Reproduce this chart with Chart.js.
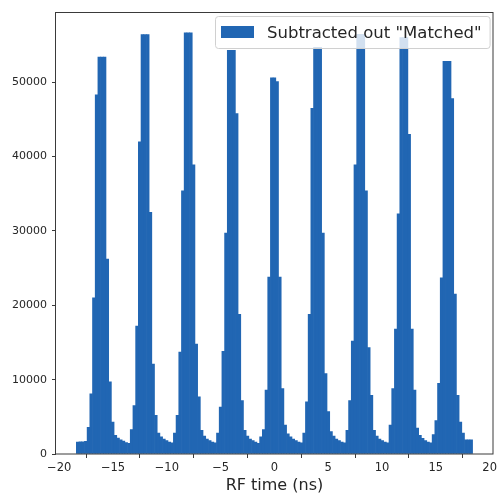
<!DOCTYPE html>
<html lang="en">
<head>
<meta charset="utf-8" />
<title>RF time</title>
<script src="https://cdn.jsdelivr.net/npm/chart.js"></script>
<style>
  html, body { margin: 0; padding: 0; background: #fff; }
  #wrap { width: 500px; height: 495px; }
</style>
</head>
<body>
<div id="wrap"><canvas id="rfChart" width="500" height="495"></canvas></div>
<script>
  // histogram bins (ns)
  const binStart = -18.41;
  const binWidth = 0.2505;

  // counts per bin
  const counts = [
    1600, 1650, 1650, 1700,
    3600, 8100, 21000, 48300, 53400, 53400, 53400, 26200, 9700, 4300, 2500,
    2150, 1900, 1750, 1550, 1450,
    3300, 6500, 17200, 42000, 56400, 56400, 56400, 32500, 12100, 5200, 2800,
    2300, 2000, 1800, 1600, 1500,
    2800, 5200, 13700, 35400, 56650, 56650, 56650, 38900, 14800, 7700, 3200,
    2400, 2000, 1800, 1600, 1500,
    2800, 6300, 13800, 29700, 54300, 54300, 54300, 45800, 18800, 7200, 3200,
    2400, 2000, 1800, 1600, 1450,
    2300, 3300, 8600, 23800, 50600, 50600, 50100, 23800, 8800, 3900, 2700,
    2300, 2000, 1800, 1600, 1500,
    2800, 7000, 18800, 46500, 54700, 54700, 54700, 29700, 10800, 5700, 3000,
    2400, 2000, 1800, 1600, 1500,
    3200, 7200, 15200, 38900, 56450, 56450, 56450, 35400, 14300, 7900, 3200,
    2400, 2000, 1800, 1600, 1500,
    3900, 8800, 16800, 32300, 56000, 56000, 56000, 43000, 16800, 8600, 3500,
    2500, 2100, 1800, 1600, 1500,
    2600, 4500, 9500, 23700, 52800, 52800, 52800, 47800, 21500, 7900, 4300, 2800, 1900, 1900, 1900
  ];

  const xTicks = [-20, -15, -10, -5, 0, 5, 10, 15, 20];
  const yTicks = [0, 10000, 20000, 30000, 40000, 50000];
  const seriesLabel = 'Subtracted out "Matched"';
  const xTitle = 'RF time (ns)';

  const barColor = '#2166b3';
  const inkColor = '#262626';

  Chart.defaults.font.family = 'DejaVu Sans';
  Chart.defaults.color = inkColor;

  const points = counts.map((c, i) => ({ x: binStart + (i + 0.5) * binWidth, y: c }));

  // axes frame + matplotlib style legend box
  const frameLegend = {
    id: 'frameLegend',
    afterDatasetsDraw(chart) {
      const { ctx, chartArea: a } = chart;
      ctx.save();
      ctx.strokeStyle = '#3a3a3a';
      ctx.lineWidth = 1;
      ctx.strokeRect(Math.round(a.left) - 0.5, Math.round(a.top) + 0.5,
        Math.round(a.right - a.left) + 0.5, Math.round(a.bottom - a.top) - 0.5);

      ctx.font = '16.5px "DejaVu Sans"';
      const tw = ctx.measureText(seriesLabel).width;
      const boxW = 6 + 33 + 13 + tw + 8;
      const boxH = 32;
      const bx = Math.round(a.right - 3 - boxW) + 0.5;
      const by = Math.round(a.top + 4) + 0.5;
      ctx.beginPath();
      ctx.roundRect(bx, by, boxW, boxH, 3);
      ctx.fillStyle = 'rgba(255,255,255,0.8)';
      ctx.fill();
      ctx.strokeStyle = '#d0d0d0';
      ctx.stroke();
      ctx.fillStyle = barColor;
      ctx.fillRect(bx + 5.5, by + 9.5, 33, 12);
      ctx.fillStyle = inkColor;
      ctx.textBaseline = 'middle';
      ctx.textAlign = 'left';
      ctx.fillText(seriesLabel, bx + 5.5 + 33 + 13, by + boxH / 2 + 1);
      ctx.restore();
    }
  };

  new Chart(document.getElementById('rfChart').getContext('2d'), {
    type: 'bar',
    data: {
      datasets: [{
        label: seriesLabel,
        data: points,
        backgroundColor: barColor,
        borderWidth: 0,
        barPercentage: 1,
        categoryPercentage: 1
      }]
    },
    options: {
      responsive: false,
      animation: false,
      layout: { padding: { left: 0, right: 4, top: 9, bottom: 0 } },
      scales: {
        x: {
          type: 'linear',
          min: -20.3,
          max: 20.3,
          offset: false,
          afterBuildTicks: s => { s.ticks = xTicks.map(v => ({ value: v })); },
          afterFit: s => { s.height = 41; },
          grid: { display: true, drawOnChartArea: false, drawTicks: true, tickLength: 4, color: '#3a3a3a' },
          border: { display: false },
          ticks: { font: { size: 11.5 }, padding: 3, maxRotation: 0, callback: v => (v < 0 ? '\u2212' + Math.abs(v) : String(v)) },
          title: { display: true, text: xTitle, font: { size: 16 }, padding: { top: 0, bottom: 0 } }
        },
        y: {
          min: 0,
          max: 59500,
          afterBuildTicks: s => { s.ticks = yTicks.map(v => ({ value: v })); },
          afterFit: s => { s.width = 56; },
          grid: { display: true, drawOnChartArea: false, drawTicks: true, tickLength: 4, color: '#3a3a3a' },
          border: { display: false },
          ticks: { font: { size: 11 }, padding: 5, callback: v => String(v) }
        }
      },
      plugins: {
        legend: { display: false },
        tooltip: { enabled: false }
      }
    },
    plugins: [frameLegend]
  });
</script>
</body>
</html>
